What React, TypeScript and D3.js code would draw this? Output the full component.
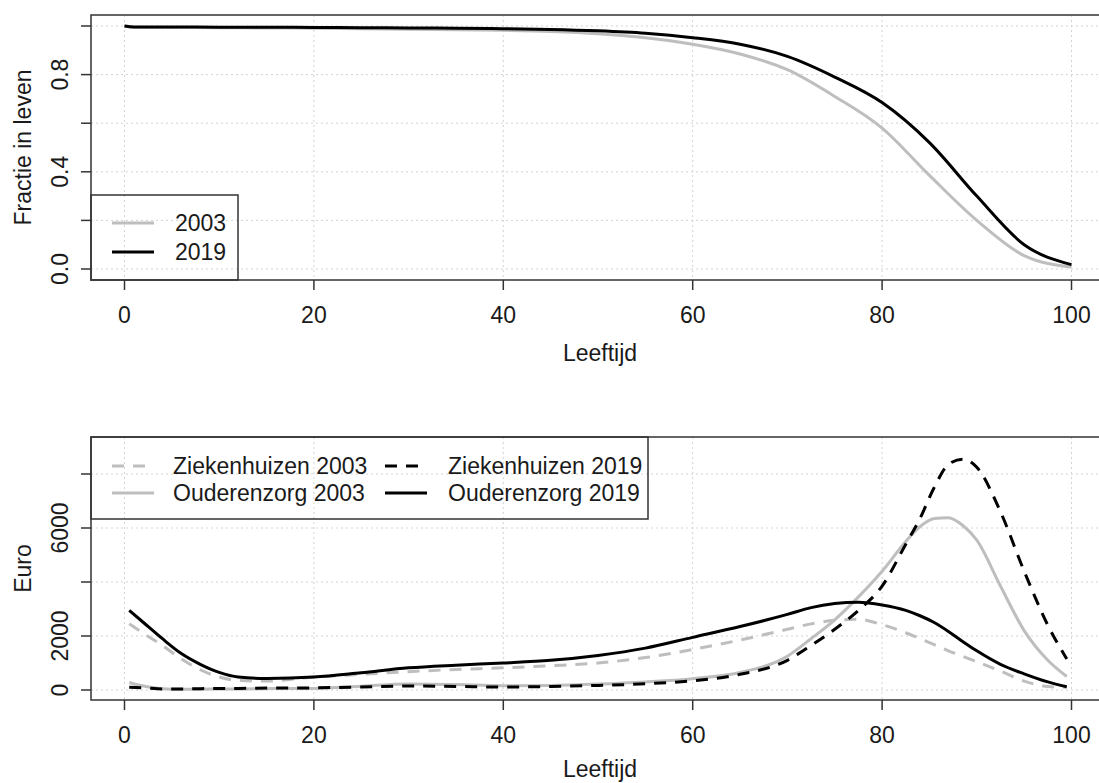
import React from 'react';
import * as d3 from 'd3';

// survival (top panel)
const survAges = [0, 1, 5, 10, 15, 20, 25, 30, 35, 40, 45, 50, 55, 60, 65, 70, 75, 80, 85, 90, 95, 100];
const surv2003 = [1.0, 0.995, 0.994, 0.993, 0.992, 0.991, 0.989, 0.987, 0.985, 0.982, 0.977, 0.968, 0.952, 0.925, 0.885, 0.82, 0.71, 0.58, 0.385, 0.2, 0.055, 0.008];
const surv2019 = [1.0, 0.996, 0.996, 0.995, 0.995, 0.994, 0.993, 0.992, 0.991, 0.989, 0.986, 0.98, 0.97, 0.952, 0.925, 0.875, 0.79, 0.685, 0.52, 0.3, 0.1, 0.018];

// costs (bottom panel)
const costAges = [0.5, 2, 4, 6, 8, 10, 12, 15, 20, 25, 30, 35, 40, 45, 50, 55, 60, 65, 70, 72.5, 75, 77.5, 80, 82.5, 84, 85.5, 87, 88.5, 90, 92.5, 95, 97.5, 99.5];
const ziek2003 = [2450, 2100, 1650, 1150, 750, 480, 350, 330, 480, 580, 680, 760, 820, 900, 1000, 1200, 1500, 1850, 2250, 2450, 2580, 2620, 2420, 2120, 1900, 1680, 1450, 1250, 1050, 700, 330, 130, 100];
const ouder2019 = [2950, 2500, 1900, 1350, 950, 650, 480, 430, 480, 640, 820, 920, 1000, 1100, 1280, 1550, 1950, 2350, 2800, 3050, 3200, 3250, 3150, 2950, 2750, 2500, 2170, 1800, 1450, 950, 600, 300, 120];
const ziek2019 = [100, 80, 40, 40, 50, 60, 60, 70, 80, 110, 150, 130, 110, 130, 170, 230, 340, 580, 1100, 1650, 2250, 2950, 3850, 5400, 6350, 7500, 8350, 8550, 8250, 6600, 4400, 2400, 1150];
const ouder2003 = [280, 150, 50, 30, 30, 40, 40, 50, 60, 140, 220, 200, 160, 170, 220, 300, 420, 650, 1250, 1900, 2600, 3450, 4400, 5500, 6050, 6350, 6380, 6100, 5550, 3850, 2200, 1100, 500];

const xTicks = [0, 20, 40, 60, 80, 100];
const topTicks = [0, 0.2, 0.4, 0.6, 0.8, 1.0];
const topLabels = ['0.0', '0.4', '0.8'];
const botTicks = [0, 2000, 4000, 6000, 8000];
const botLabels = ['0', '2000', '6000'];

const GRAY = '#bebebe';
const INK = '#1a1a1a';
const FONT = '"Liberation Sans", Arial, sans-serif';
const FS = 23;
const DASH = '12,9';

const left = 91;
const right = 1109;
const x = d3.scaleLinear().domain([0, 100]).range([124.5, 1071.5]);

type Panel = { top: number; bottom: number };
const P1: Panel = { top: 15, bottom: 280 };
const P2: Panel = { top: 437, bottom: 700 };

const yTop = d3.scaleLinear().domain([0, 1]).range([269, 26]);
const yBot = d3.scaleLinear().domain([0, 8000]).range([690, 474]);

function path(ages: number[], vals: number[], y: d3.ScaleLinear<number, number>) {
  const line = d3.line<number>()
    .x((_, i) => x(ages[i]))
    .y(v => y(v))
    .curve(d3.curveMonotoneX);
  return line(vals) || '';
}

function Frame({ p, y, ticks, labels, title, xlabY }: { p: Panel; y: d3.ScaleLinear<number, number>; ticks: number[]; labels: string[]; title: string; xlabY: number }) {
  const fmt = (v: number) => (ticks[ticks.length - 1] <= 1 ? v.toFixed(1) : String(v));
  const mid = (p.top + p.bottom) / 2;
  return (
    <g>
      {/* grid */}
      {xTicks.map(t => (
        <line key={'gx' + t} x1={x(t)} x2={x(t)} y1={p.top} y2={p.bottom} stroke="#d3d3d3" strokeDasharray="2,3" />
      ))}
      {ticks.map(t => (
        <line key={'gy' + t} x1={left} x2={right} y1={y(t)} y2={y(t)} stroke="#d3d3d3" strokeDasharray="2,3" />
      ))}
      {/* x axis */}
      {xTicks.map(t => (
        <g key={'xt' + t}>
          <line x1={x(t)} x2={x(t)} y1={p.bottom} y2={p.bottom + 10} stroke="#333" strokeWidth={1.5} />
          <text x={x(t)} y={p.bottom + 43} textAnchor="middle" fontFamily={FONT} fontSize={FS} fill={INK}>{t}</text>
        </g>
      ))}
      <text x={(left + right) / 2} y={xlabY} textAnchor="middle" fontFamily={FONT} fontSize={FS} fill={INK}>Leeftijd</text>
      {/* y axis */}
      {ticks.map(t => (
        <line key={'yt' + t} x1={left - 10} x2={left} y1={y(t)} y2={y(t)} stroke="#333" strokeWidth={1.5} />
      ))}
      {ticks.filter(t => labels.includes(fmt(t))).map(t => (
        <text key={'yl' + t} transform={`translate(68,${y(t)}) rotate(-90)`} textAnchor="middle" fontFamily={FONT} fontSize={FS} fill={INK}>{fmt(t)}</text>
      ))}
      <text transform={`translate(31,${mid}) rotate(-90)`} textAnchor="middle" fontFamily={FONT} fontSize={FS} fill={INK}>{title}</text>
    </g>
  );
}

export default function App() {
  return (
    <svg width={1099} height={783} style={{ position: 'absolute', left: 0, top: 0, background: '#fff' }}>
      {/* top panel */}
      <Frame p={P1} y={yTop} ticks={topTicks} labels={topLabels} title="Fractie in leven" xlabY={361} />
      <path d={path(survAges, surv2003, yTop)} fill="none" stroke={GRAY} strokeWidth={3} />
      <path d={path(survAges, surv2019, yTop)} fill="none" stroke="#000" strokeWidth={3} />
      <rect x={left} y={P1.top} width={right - left} height={P1.bottom - P1.top} fill="none" stroke="#333" strokeWidth={1.5} />
      <rect x={left} y={195} width={147} height={P1.bottom - 195} fill="none" stroke="#333" strokeWidth={1.5} />
      <line x1={112} x2={154} y1={223} y2={223} stroke={GRAY} strokeWidth={3} />
      <text x={175} y={231} fontFamily={FONT} fontSize={FS} fill={INK}>2003</text>
      <line x1={112} x2={154} y1={252} y2={252} stroke="#000" strokeWidth={3} />
      <text x={175} y={260} fontFamily={FONT} fontSize={FS} fill={INK}>2019</text>

      {/* bottom panel */}
      <Frame p={P2} y={yBot} ticks={botTicks} labels={botLabels} title="Euro" xlabY={777} />
      <path d={path(costAges, ouder2003, yBot)} fill="none" stroke={GRAY} strokeWidth={3} />
      <path d={path(costAges, ziek2003, yBot)} fill="none" stroke={GRAY} strokeWidth={3} strokeDasharray={DASH} />
      <path d={path(costAges, ouder2019, yBot)} fill="none" stroke="#000" strokeWidth={3} />
      <path d={path(costAges, ziek2019, yBot)} fill="none" stroke="#000" strokeWidth={3} strokeDasharray={DASH} />
      <rect x={left} y={P2.top} width={right - left} height={P2.bottom - P2.top} fill="none" stroke="#333" strokeWidth={1.5} />
      <rect x={left} y={P2.top} width={557} height={82} fill="none" stroke="#333" strokeWidth={1.5} />
      <line x1={112} x2={154} y1={466} y2={466} stroke={GRAY} strokeWidth={3} strokeDasharray={DASH} />
      <text x={173} y={474} fontFamily={FONT} fontSize={FS} fill={INK}>Ziekenhuizen 2003</text>
      <line x1={112} x2={154} y1={493} y2={493} stroke={GRAY} strokeWidth={3} />
      <text x={173} y={501} fontFamily={FONT} fontSize={FS} fill={INK}>Ouderenzorg 2003</text>
      <line x1={385} x2={427} y1={466} y2={466} stroke="#000" strokeWidth={3} strokeDasharray={DASH} />
      <text x={448} y={474} fontFamily={FONT} fontSize={FS} fill={INK}>Ziekenhuizen 2019</text>
      <line x1={385} x2={427} y1={493} y2={493} stroke="#000" strokeWidth={3} />
      <text x={448} y={501} fontFamily={FONT} fontSize={FS} fill={INK}>Ouderenzorg 2019</text>
    </svg>
  );
}
